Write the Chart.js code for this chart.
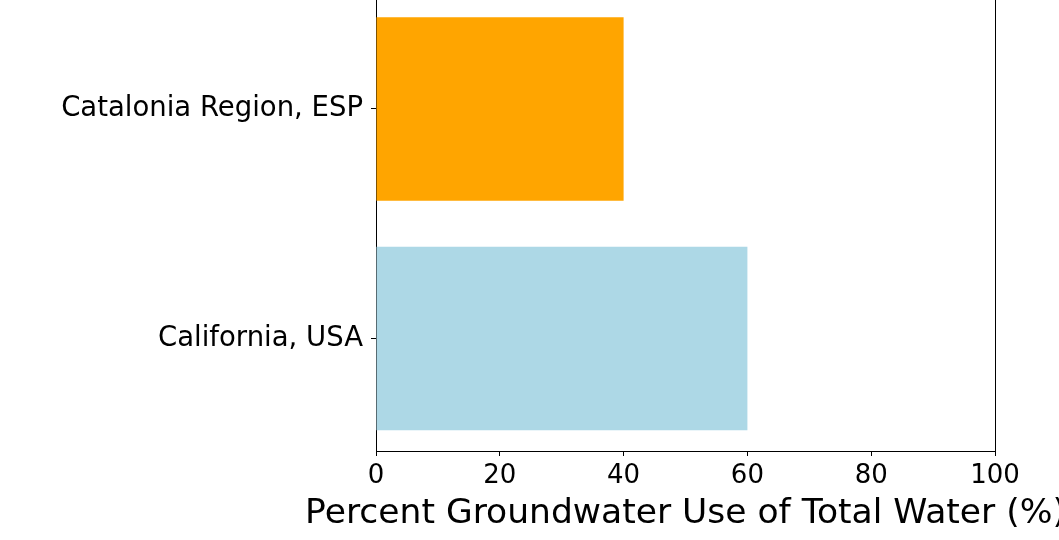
<!DOCTYPE html>
<html>
<head>
<meta charset="utf-8">
<script src="https://cdn.jsdelivr.net/npm/chart.js@4"></script>
<style>
    html, body { margin: 0; padding: 0; background: #fff; overflow: hidden; }
    #wrap { position: absolute; left: 0; top: -28px; width: 1059px; height: 568px; }
</style>
</head>
<body>
<div id="wrap"><canvas id="grafica"></canvas></div>
<script>
// categorias de abajo hacia arriba (como barh de matplotlib)
const regiones = ['California, USA', 'Catalonia Region, ESP'];
const porcentajes = [60, 40];
const colores = ['#add8e6', '#ffa500'];
const ticksX = [0, 20, 40, 60, 80, 100];
const tituloX = 'Percent Groundwater Use of Total Water (%)';

const FUENTE = "'DejaVu Sans', sans-serif";

// marco completo y titulo del eje x sin comprimir (estilo matplotlib)
const marco = {
    id: 'marco',
    afterDraw(chart) {
        const { ctx, chartArea: a } = chart;
        ctx.save();
        ctx.strokeStyle = '#000';
        ctx.lineWidth = 1;
        ctx.beginPath();
        ctx.moveTo(a.right + 0.5, a.top);
        ctx.lineTo(a.right + 0.5, a.bottom);
        ctx.moveTo(a.left, a.top + 0.5);
        ctx.lineTo(a.right, a.top + 0.5);
        ctx.stroke();

        ctx.fillStyle = '#000';
        ctx.font = `34.5px ${FUENTE}`;
        ctx.textAlign = 'center';
        ctx.textBaseline = 'middle';
        ctx.fillText(tituloX, (a.left + a.right) / 2, a.bottom + 63);
        ctx.restore();
    }
};

new Chart(document.getElementById('grafica'), {
    type: 'bar',
    data: {
        datasets: [{
            data: porcentajes.map((v, i) => ({ x: v, y: i })),
            backgroundColor: colores,
            borderWidth: 0,
            barPercentage: 0.8,
            categoryPercentage: 1
        }]
    },
    options: {
        indexAxis: 'y',
        responsive: true,
        maintainAspectRatio: false,
        animation: false,
        layout: { autoPadding: false, padding: { left: 0, right: 64, top: 0, bottom: 0 } },
        plugins: { legend: { display: false }, tooltip: { enabled: false } },
        scales: {
            x: {
                type: 'linear',
                min: 0,
                max: 100,
                afterBuildTicks: s => { s.ticks = ticksX.map(v => ({ value: v })); },
                afterFit: s => { s.height = 89; },
                border: { display: true, color: '#000', width: 1 },
                grid: { drawOnChartArea: false, offset: false, tickLength: 5, tickColor: '#000' },
                ticks: { color: '#000', padding: 5, maxRotation: 0, font: { family: FUENTE, size: 26 } }
            },
            y: {
                type: 'linear',
                min: -0.49,
                max: regiones.length - 1 + 0.49,
                offset: false,
                afterBuildTicks: s => { s.ticks = regiones.map((r, i) => ({ value: i })); },
                afterFit: s => { s.width = 376; },
                border: { display: true, color: '#000', width: 1 },
                grid: { drawOnChartArea: false, offset: false, tickLength: 5, tickColor: '#000' },
                ticks: {
                    color: '#000',
                    padding: 8,
                    font: { family: FUENTE, size: 27.5 },
                    callback: v => regiones[v]
                }
            }
        }
    },
    plugins: [marco]
});
</script>
</body>
</html>
